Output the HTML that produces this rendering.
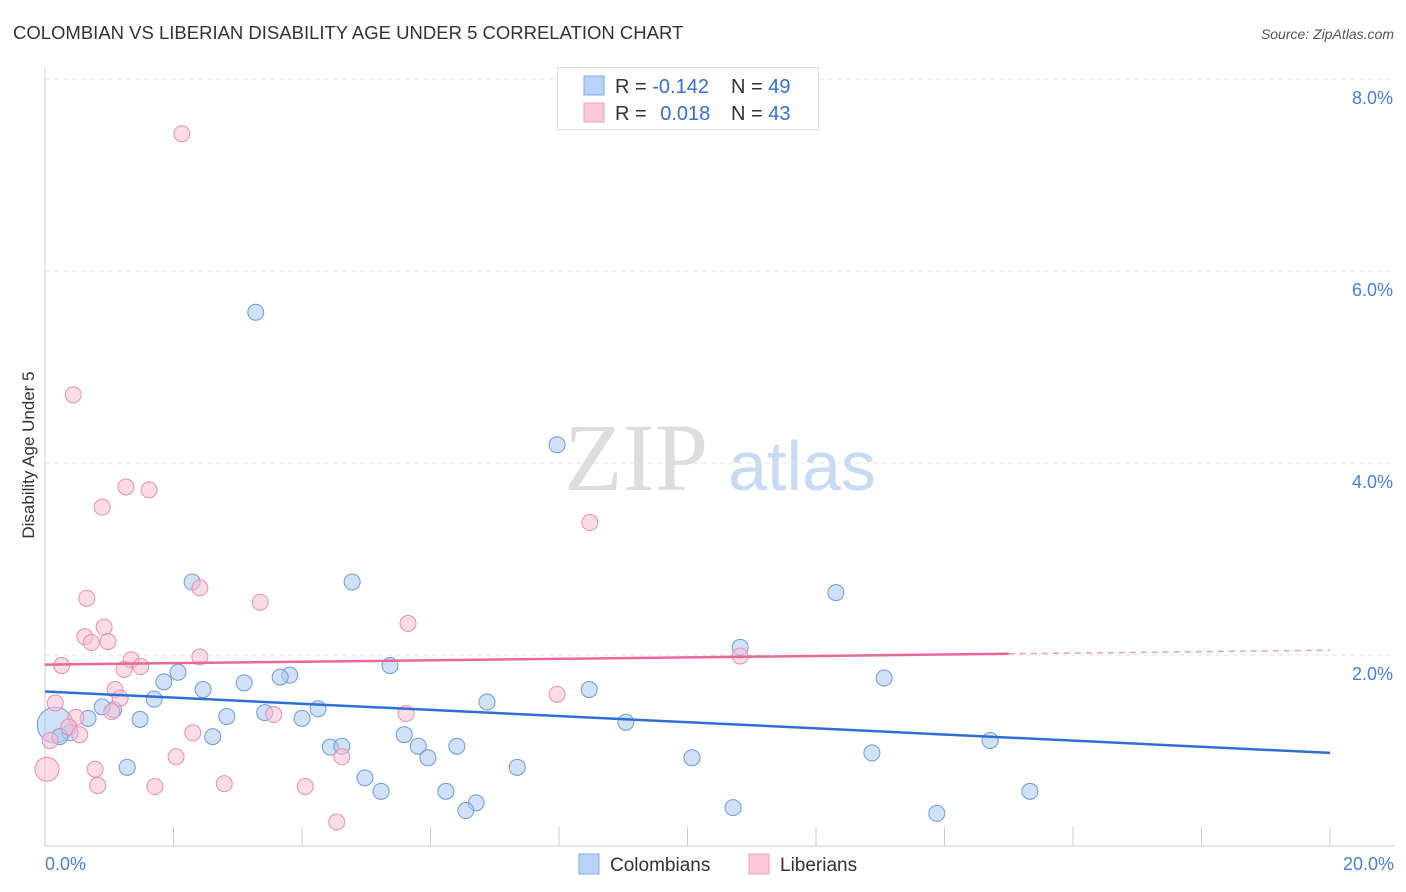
<!DOCTYPE html>
<html><head><meta charset="utf-8"><style>
body{margin:0;background:#fff;font-family:"Liberation Sans",sans-serif;}
#wrap{position:relative;width:1406px;height:892px;overflow:hidden;}
</style></head><body>
<div id="wrap">
<svg id="svg" width="1406" height="892" xmlns="http://www.w3.org/2000/svg">
<text x="13" y="39" font-size="18.5" fill="#333">COLOMBIAN VS LIBERIAN DISABILITY AGE UNDER 5 CORRELATION CHART</text>
<text x="1394" y="39" font-size="14" fill="#555" font-style="italic" text-anchor="end">Source: ZipAtlas.com</text>
<text x="636" y="490" font-size="96" fill="#ddd" font-family="Liberation Serif,serif" text-anchor="middle">ZIP</text>
<text x="802" y="490" font-size="70" fill="#c9daf3" text-anchor="middle">atlas</text>
<text transform="translate(34,455) rotate(-90)" font-size="17" fill="#333" text-anchor="middle">Disability Age Under 5</text>
<g id="grid"></g><g id="pts"></g><g id="lines"></g>
<g>
<rect x="557.5" y="67.5" width="261" height="62" fill="#fff" stroke="#ddd"/>
<rect x="584" y="76" width="20" height="19" fill="#b8d3f7" stroke="#7fa9e8"/>
<rect x="584" y="103" width="20" height="19" fill="#fbc9d8" stroke="#f0a0b8"/>
<text x="615" y="93" font-size="20" fill="#333">R = <tspan fill="#3570d0">-0.142</tspan></text>
<text x="731" y="93" font-size="20" fill="#333">N = <tspan fill="#3570d0">49</tspan></text>
<text x="615" y="120" font-size="20" fill="#333">R = <tspan fill="#3570d0" dx="8">0.018</tspan></text>
<text x="731" y="120" font-size="20" fill="#333">N = <tspan fill="#3570d0">43</tspan></text>
</g>
<g>
<rect x="579" y="854" width="20" height="20" fill="#b8d3f7" stroke="#7fa9e8"/>
<text x="610" y="871" font-size="19" fill="#333">Colombians</text>
<rect x="749" y="854" width="20" height="20" fill="#fbc9d8" stroke="#f0a0b8"/>
<text x="780" y="871" font-size="19" fill="#333">Liberians</text>
</g>
</svg>
</div>
<script>
const yTicks=[2,4,6,8];
const yTickLabels=["2.0%","4.0%","6.0%","8.0%"];
const xTickLabels=["0.0%","20.0%"];
const colX=[3.28,7.97,2.29,4.78,12.31,10.82,5.37,2.07,3.81,3.66,1.85,3.10,13.06,2.46,8.47,1.70,6.88,1.07,0.89,4.25,3.42,2.83,1.48,0.67,4.00,9.04,0.16,0.39,0.23,5.59,2.61,14.71,4.44,4.62,5.81,6.41,12.87,5.96,10.07,1.28,7.35,4.98,5.23,6.24,15.33,6.71,6.55,10.71,13.88];
const colY=[5.57,4.19,2.76,2.76,2.65,2.08,1.89,1.82,1.79,1.77,1.72,1.71,1.76,1.64,1.64,1.54,1.51,1.43,1.46,1.44,1.40,1.36,1.33,1.34,1.34,1.30,1.27,1.19,1.15,1.17,1.15,1.11,1.04,1.05,1.05,1.05,0.98,0.93,0.93,0.83,0.83,0.72,0.58,0.58,0.58,0.46,0.38,0.41,0.35];
const libX=[2.13,0.44,1.26,1.62,0.89,8.48,2.41,0.65,3.35,5.65,0.92,0.62,0.98,0.72,2.41,10.82,0.26,1.34,1.49,1.23,7.97,1.09,1.17,0.16,1.04,3.56,5.62,0.48,0.37,2.30,0.54,0.08,2.04,4.62,0.78,0.03,0.82,1.71,2.79,4.05,4.54];
const libY=[7.43,4.71,3.75,3.72,3.54,3.38,2.70,2.59,2.55,2.33,2.29,2.19,2.14,2.13,1.98,1.99,1.89,1.95,1.88,1.85,1.59,1.64,1.55,1.50,1.41,1.38,1.39,1.35,1.25,1.19,1.17,1.11,0.94,0.94,0.81,0.81,0.64,0.63,0.66,0.63,0.26];
const colTrend=[1.62,0.98];
const libTrend=[1.90,2.05];
const X0=45,X1=1330,Y0=847;
const sx=v=>X0+(v/20)*(X1-X0);
const sy=v=>Y0-v*96;
const NS="http://www.w3.org/2000/svg";
function mk(tag,attrs,parent){const e=document.createElementNS(NS,tag);for(const k in attrs)e.setAttribute(k,attrs[k]);parent.appendChild(e);return e;}
const svg=document.getElementById('svg'),grid=document.getElementById('grid'),pts=document.getElementById('pts'),lines=document.getElementById('lines');
yTicks.forEach((t,i)=>{
 const l=mk('line',{x1:45,x2:1394,y1:sy(t),y2:sy(t),stroke:'#e3e3e3','stroke-dasharray':'5,4'},grid);
 
 
 const tx=mk('text',{x:1393,y:sy(t)+25,'font-size':18,fill:'#4a7fd6','text-anchor':'end'},grid);
 tx.textContent=yTickLabels[i];
 
 
});
const topl=mk('line',{x1:45,x2:1394,y1:79,y2:79,stroke:'#e3e3e3','stroke-dasharray':'5,4'},grid);


const ax=mk('line',{x1:45,x2:45,y1:68,y2:846,stroke:'#ccc'},grid);


const bx=mk('line',{x1:45,x2:1394,y1:846,y2:846,stroke:'#ccc'},grid);


for(let i=0;i<=10;i++){
 const t=mk('line',{x1:sx(i*2),x2:sx(i*2),y1:827,y2:846,stroke:'#ccc'},grid);
 
 
}
[[0,'start',45],[20,'end',1394]].forEach((d,i)=>{
 const t=mk('text',{x:d[2],y:870,'font-size':18,fill:'#4a7fd6','text-anchor':d[1]},grid);
 t.textContent=xTickLabels[i];
 
 
});
function drawPts(xs,ys,fill,stroke,name,bigIdx,bigR){
 xs.forEach((x,i)=>{
  const c=mk('circle',{cx:sx(x),cy:sy(ys[i]),r:i===bigIdx?bigR:8,fill:fill,'fill-opacity':0.55,stroke:stroke,'stroke-width':1},pts);
  
  
 });
}
drawPts(colX,colY,'#a9c8f2','#6a9be0','point-colombians',26,18);
drawPts(libX,libY,'#f9c0d2','#ea8fae','point-liberians',35,12);
const cl=mk('line',{x1:sx(0),y1:sy(colTrend[0]),x2:sx(20),y2:sy(colTrend[1]),stroke:'#2d6fd6','stroke-width':2.5},lines);


const xe=15,ye=libTrend[0]+(libTrend[1]-libTrend[0])*xe/20;
const pl=mk('line',{x1:sx(0),y1:sy(libTrend[0]),x2:sx(xe),y2:sy(ye),stroke:'#e8689a','stroke-width':2.5},lines);


const pd=mk('line',{x1:sx(xe),y1:sy(ye),x2:sx(20),y2:sy(libTrend[1]),stroke:'#e8a0b8','stroke-width':1.5,'stroke-dasharray':'6,5'},lines);


</script>
</body></html>
